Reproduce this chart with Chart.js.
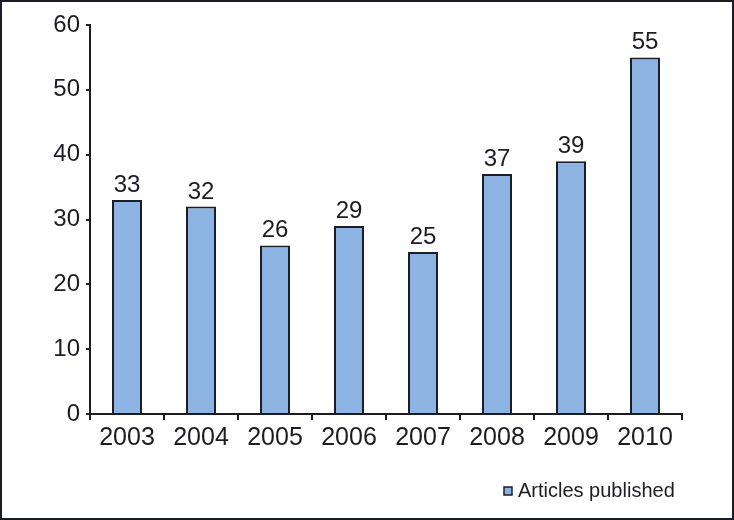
<!DOCTYPE html>
<html>
<head>
<meta charset="utf-8">
<script src="https://cdn.jsdelivr.net/npm/chart.js@4/dist/chart.umd.min.js"></script>
<style>
  html, body { margin: 0; padding: 0; background: #fff; }
  #wrap { width: 734px; height: 520px; position: relative; }
</style>
</head>
<body>
<div id="wrap"><canvas id="chart" width="734" height="520"></canvas></div>
<script>
const years = ["2003", "2004", "2005", "2006", "2007", "2008", "2009", "2010"];
const articles = [33, 32, 26, 29, 25, 37, 39, 55];
const seriesName = "Articles published";

const INK = "#1c1c24";
const FONT = "'Liberation Sans', Arial, sans-serif";

// value labels, outer frame and the small legend box at the bottom right
const extras = {
  id: "extras",
  afterDatasetsDraw(chart) {
    const ctx = chart.ctx;
    const meta = chart.getDatasetMeta(0);
    ctx.save();
    ctx.fillStyle = INK;
    ctx.font = "24px " + FONT;
    ctx.textAlign = "center";
    ctx.textBaseline = "alphabetic";
    meta.data.forEach((bar, i) => {
      ctx.fillText(String(articles[i]), bar.x, bar.y - 8);
    });
    ctx.restore();
  },
  afterDraw(chart) {
    const ctx = chart.ctx;
    ctx.save();
    ctx.strokeStyle = INK;
    ctx.lineWidth = 2;
    ctx.strokeRect(1, 1, chart.width - 2, chart.height - 2);

    ctx.fillStyle = "#8db3e2";
    ctx.fillRect(504, 487, 8, 8);
    ctx.lineWidth = 1.5;
    ctx.strokeRect(504, 487, 8, 8);
    ctx.fillStyle = INK;
    ctx.font = "20px " + FONT;
    ctx.textBaseline = "middle";
    ctx.textAlign = "left";
    ctx.fillText(seriesName, 518, 491);
    ctx.restore();
  }
};

new Chart(document.getElementById("chart"), {
  type: "bar",
  data: {
    labels: years,
    datasets: [{
      label: seriesName,
      data: articles,
      backgroundColor: "#8db3e2",
      borderColor: INK,
      borderWidth: 2,
      categoryPercentage: 1,
      barPercentage: 0.405
    }]
  },
  options: {
    responsive: false,
    animation: false,
    layout: { padding: { left: 0, top: 25, right: 52, bottom: 56 } },
    plugins: { legend: { display: false }, tooltip: { enabled: false } },
    scales: {
      x: {
        afterFit(scale) { scale.height = 50; },
        border: { display: true, color: INK, width: 2 },
        grid: { display: true, drawOnChartArea: false, offset: true, tickLength: 6, color: INK, lineWidth: 2 },
        ticks: { color: INK, font: { family: FONT, size: 25 }, padding: 3, maxRotation: 0 }
      },
      y: {
        min: 0,
        max: 60,
        afterFit(scale) { scale.width = 90; },
        border: { display: true, color: INK, width: 2 },
        grid: { display: true, drawOnChartArea: false, tickLength: 4, color: INK, lineWidth: 2 },
        ticks: { stepSize: 10, color: INK, font: { family: FONT, size: 24 }, padding: 6 }
      }
    }
  },
  plugins: [extras]
});
</script>
</body>
</html>
